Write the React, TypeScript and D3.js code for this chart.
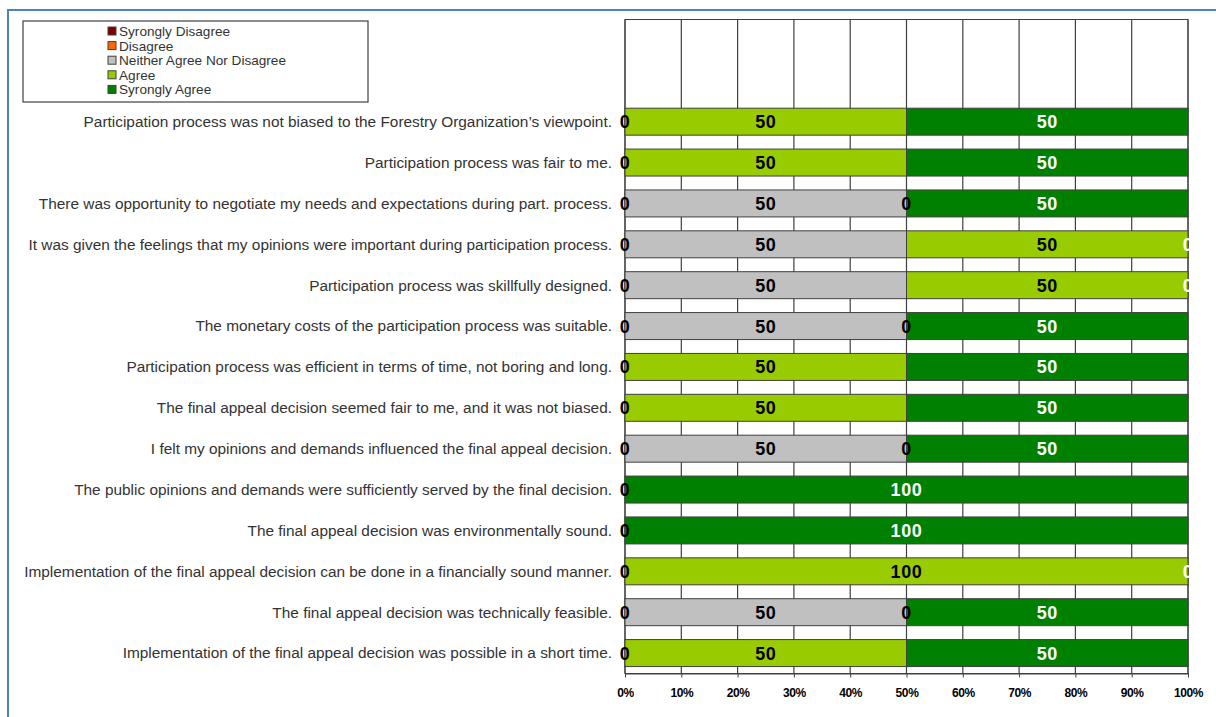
import React, { useRef, useEffect } from 'react';
import * as d3 from 'd3';

// survey statements, top to bottom (two blank rows at the top as in the sheet)
const categories = [
  '',
  '',
  'Participation process was not biased to the Forestry Organization\u2019s viewpoint.',
  'Participation process was fair to me.',
  'There was opportunity to negotiate my needs and expectations during part. process.',
  'It was given the feelings that my opinions were important during participation process.',
  'Participation process was skillfully designed.',
  'The monetary costs of the participation process was suitable.',
  'Participation process was efficient in terms of time, not boring and long.',
  'The final appeal decision seemed fair to me, and it was not biased.',
  'I felt my opinions and demands influenced the final appeal decision.',
  'The public opinions and demands were sufficiently served by the final decision.',
  'The final appeal decision was environmentally sound.',
  'Implementation of the final appeal decision can be done in a financially sound manner.',
  'The final appeal decision was technically feasible.',
  'Implementation of the final appeal decision was possible in a short time.',
];

const seriesNames = ['Syrongly Disagree', 'Disagree', 'Neither Agree Nor Disagree', 'Agree', 'Syrongly Agree'];
const seriesColors = ['#800000', '#FF6600', '#C0C0C0', '#99CC00', '#008000'];
const labelColors = ['#ffffff', '#000000', '#000000', '#000000', '#ffffff'];

const stronglyDisagree: (number | null)[] = [null, null, null, null, null, null, null, null, null, null, null, null, null, null, null, null];
const disagree: (number | null)[] = [null, null, 0, 0, 0, 0, 0, 0, 0, 0, 0, 0, 0, 0, 0, 0];
const neither: (number | null)[] = [null, null, null, null, 50, 50, 50, 50, null, null, 50, null, null, null, 50, null];
const agree: (number | null)[] = [null, null, 50, 50, 0, 50, 50, 0, 50, 50, 0, null, null, 100, 0, 50];
const stronglyAgree: (number | null)[] = [null, null, 50, 50, 50, 0, 0, 50, 50, 50, 50, 100, 100, 0, 50, 50];

const seriesValues = [stronglyDisagree, disagree, neither, agree, stronglyAgree];
const xTicks = [0, 10, 20, 30, 40, 50, 60, 70, 80, 90, 100];

const App: React.FC = () => {
  const svgRef = useRef<SVGSVGElement>(null);

  useEffect(() => {
    if (!svgRef.current) return;
    const width = 1216;
    const height = 717;
    const margin = { top: 19.5, right: 28, bottom: 43.5, left: 625 };

    const svg = d3.select(svgRef.current);
    svg.selectAll('*').remove();

    const x = d3.scaleLinear().domain([0, 100]).range([margin.left, width - margin.right]);
    const y = d3.scaleBand<number>()
      .domain(categories.map((_, i) => i))
      .range([margin.top, height - margin.bottom])
      .paddingInner(0.34)
      .paddingOuter(0.17);

    // outer frame (blue)
    svg.append('path')
      .attr('d', `M8,${height} L8,10 L${width},10`)
      .attr('fill', 'none')
      .attr('stroke', '#4F81BD')
      .attr('stroke-width', 2);

    // plot frame + vertical grid
    svg.append('rect')
      .attr('x', x(0)).attr('y', margin.top)
      .attr('width', x(100) - x(0)).attr('height', height - margin.bottom - margin.top)
      .attr('fill', '#fff').attr('stroke', '#404040').attr('stroke-width', 1);

    svg.append('g')
      .selectAll('line')
      .data(xTicks)
      .join('line')
      .attr('x1', d => x(d)).attr('x2', d => x(d))
      .attr('y1', margin.top).attr('y2', height - margin.bottom)
      .attr('stroke', '#404040').attr('stroke-width', 1.2);

    // stacked segments
    const segs: { row: number; s: number; x0: number; x1: number; v: number | null }[] = [];
    categories.forEach((_, row) => {
      const total = d3.sum(seriesValues, sv => sv[row] ?? 0);
      let acc = 0;
      seriesValues.forEach((sv, s) => {
        const v = sv[row];
        const p = total ? ((v ?? 0) / total) * 100 : 0;
        segs.push({ row, s, x0: acc, x1: acc + p, v });
        acc += p;
      });
    });

    svg.append('g')
      .selectAll('rect')
      .data(segs.filter(d => d.x1 > d.x0))
      .join('rect')
      .attr('x', d => x(d.x0))
      .attr('y', d => y(d.row)!)
      .attr('width', d => x(d.x1) - x(d.x0))
      .attr('height', y.bandwidth())
      .attr('fill', d => seriesColors[d.s])
      .attr('stroke', '#404040')
      .attr('stroke-width', 1);

    // x axis
    const axis = svg.append('g')
      .attr('transform', `translate(0,${height - margin.bottom})`)
      .call(d3.axisBottom(x).tickValues(xTicks).tickSize(4).tickSizeOuter(0).tickFormat(d => `${d}%`));
    axis.select('.domain').attr('stroke', '#404040');
    axis.selectAll('.tick line').attr('stroke', '#404040');
    axis.selectAll('.tick text')
      .attr('dy', '1.1em')
      .attr('y', 10)
      .attr('fill', '#000')
      .style('font', 'bold 12px "Liberation Sans", Arial, sans-serif')
      .style('letter-spacing', '-0.4px');

    // category labels
    svg.append('g')
      .selectAll('text')
      .data(categories.map((c, i) => ({ c, i })).filter(d => d.c))
      .join('text')
      .attr('x', margin.left - 13)
      .attr('y', d => y(d.i)! + y.bandwidth() / 2)
      .attr('dy', '0.35em')
      .attr('text-anchor', 'end')
      .attr('fill', '#333')
      .style('font', '15.4px "Liberation Sans", Arial, sans-serif')
      .text(d => d.c);

    // value labels
    svg.append('g')
      .selectAll('text')
      .data(segs.filter(d => d.v !== null))
      .join('text')
      .attr('x', d => x((d.x0 + d.x1) / 2))
      .attr('y', d => y(d.row)! + y.bandwidth() / 2)
      .attr('dy', '0.36em')
      .attr('text-anchor', 'middle')
      .attr('fill', d => labelColors[d.s])
      .style('font', 'bold 18px "Liberation Sans", Arial, sans-serif')
      .style('letter-spacing', '0.6px')
      .text(d => String(d.v));

    // legend
    const lg = svg.append('g');
    lg.append('rect')
      .attr('x', 23).attr('y', 21).attr('width', 345).attr('height', 81)
      .attr('fill', '#fff').attr('stroke', '#404040').attr('stroke-width', 1.2);
    const item = lg.selectAll('g.item')
      .data(seriesNames)
      .join('g')
      .attr('class', 'item')
      .attr('transform', (_, i) => `translate(108,${31 + i * 14.6})`);
    item.append('rect')
      .attr('x', 0).attr('y', -4).attr('width', 8).attr('height', 8)
      .attr('fill', (_, i) => seriesColors[i])
      .attr('stroke', '#404040').attr('stroke-width', 1);
    item.append('text')
      .attr('x', 11).attr('dy', '0.36em')
      .attr('fill', '#333')
      .style('font', '13.6px "Liberation Sans", Arial, sans-serif')
      .text(d => d);
  }, []);

  return (
    <svg ref={svgRef} width={1216} height={717}
      style={{ position: 'absolute', left: 0, top: 0, background: '#fff' }} />
  );
};

export default App;
